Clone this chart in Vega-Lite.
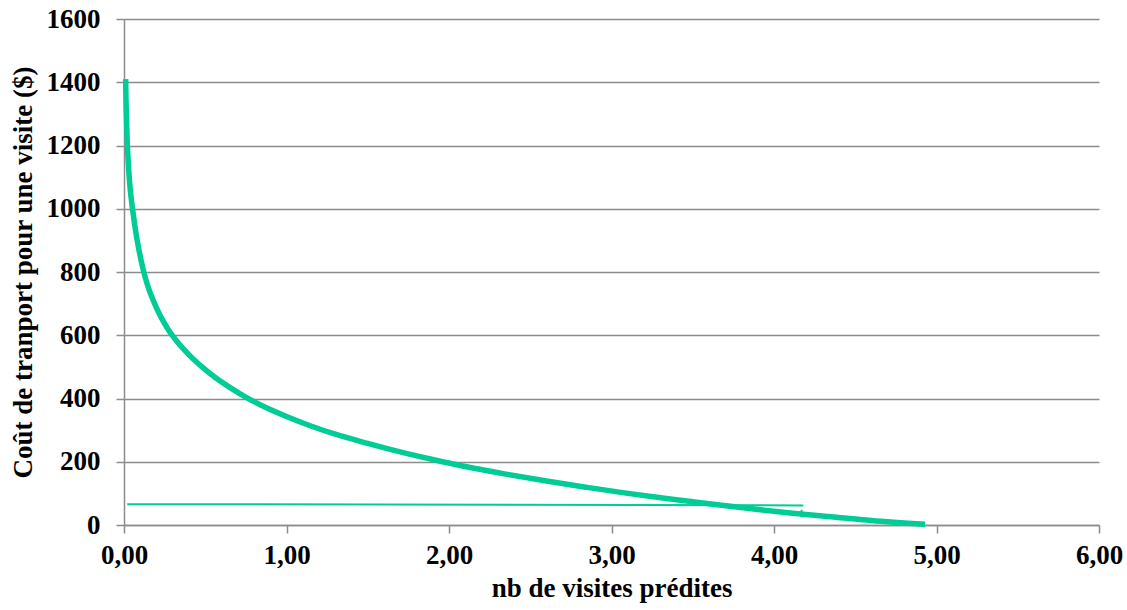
{
  "$schema": "https://vega.github.io/schema/vega-lite/v6.json",
  "autosize": {"type": "none"},
  "width": 975,
  "height": 506,
  "padding": {"left": 124, "top": 19, "right": 28, "bottom": 85},
  "background": "white",
  "config": {
    "view": {"stroke": null},
    "axis": {
      "labelFont": "Liberation Serif, Times New Roman, serif",
      "titleFont": "Liberation Serif, Times New Roman, serif",
      "labelFontWeight": "bold",
      "titleFontWeight": "bold",
      "labelFontSize": 27,
      "titleFontSize": 27,
      "labelColor": "black",
      "titleColor": "black",
      "labelFlush": false,
      "domainColor": "#8c8c8c",
      "domainWidth": 1.5,
      "tickColor": "#8c8c8c",
      "tickWidth": 1.5,
      "tickSize": 8,
      "gridColor": "#8c8c8c",
      "gridWidth": 1.5
    }
  },
  "datasets": {
    "curve": [
      {"x": 0.01, "y": 1410},
      {"x": 0.012, "y": 1350},
      {"x": 0.015, "y": 1290},
      {"x": 0.02, "y": 1210},
      {"x": 0.027, "y": 1140},
      {"x": 0.035, "y": 1080},
      {"x": 0.045, "y": 1030},
      {"x": 0.055, "y": 990},
      {"x": 0.07, "y": 935},
      {"x": 0.09, "y": 875},
      {"x": 0.117, "y": 810},
      {"x": 0.145, "y": 758},
      {"x": 0.18, "y": 710},
      {"x": 0.22, "y": 665},
      {"x": 0.27, "y": 620},
      {"x": 0.33, "y": 578},
      {"x": 0.4, "y": 538},
      {"x": 0.48, "y": 500},
      {"x": 0.57, "y": 463},
      {"x": 0.66, "y": 432},
      {"x": 0.757, "y": 402},
      {"x": 0.87, "y": 372},
      {"x": 1.0, "y": 343},
      {"x": 1.15, "y": 313},
      {"x": 1.3, "y": 287},
      {"x": 1.5, "y": 258},
      {"x": 1.7, "y": 231},
      {"x": 1.9, "y": 207},
      {"x": 2.1, "y": 185},
      {"x": 2.35, "y": 161},
      {"x": 2.6, "y": 139},
      {"x": 2.85, "y": 119},
      {"x": 3.1, "y": 100},
      {"x": 3.35, "y": 83},
      {"x": 3.6, "y": 67},
      {"x": 3.85, "y": 52},
      {"x": 4.1, "y": 38},
      {"x": 4.35, "y": 26},
      {"x": 4.6, "y": 14},
      {"x": 4.93, "y": 2}
    ],
    "flat": [
      {"x": 0.02, "y": 66},
      {"x": 4.18, "y": 62}
    ],
    "mark": [
      {"x": 4.17, "y": 24, "y2": 48}
    ]
  },
  "layer": [
    {
      "data": {"name": "curve"},
      "mark": {"type": "line", "color": "#00CC96", "strokeWidth": 5.5, "interpolate": "monotone"},
      "encoding": {
        "x": {
          "field": "x", "type": "quantitative",
          "scale": {"domain": [0, 6], "nice": false, "zero": false},
          "axis": {
            "title": "nb de visites prédites",
            "values": [0, 1, 2, 3, 4, 5, 6],
            "labelExpr": "replace(format(datum.value, '.2f'), '.', ',')",
            "grid": false,
            "labelPadding": 9,
            "titlePadding": 7
          }
        },
        "y": {
          "field": "y", "type": "quantitative",
          "scale": {"domain": [0, 1600], "nice": false},
          "axis": {
            "title": "Coût de tranport pour une visite ($)",
            "values": [0, 200, 400, 600, 800, 1000, 1200, 1400, 1600],
            "format": "d",
            "grid": true,
            "labelPadding": 16,
            "titlePadding": 9
          }
        }
      }
    },
    {
      "data": {"name": "flat"},
      "mark": {"type": "line", "color": "#00CC96", "strokeWidth": 2},
      "encoding": {
        "x": {"field": "x", "type": "quantitative"},
        "y": {"field": "y", "type": "quantitative"}
      }
    },
    {
      "data": {"name": "mark"},
      "mark": {"type": "rule", "color": "#00CC96", "strokeWidth": 2},
      "encoding": {
        "x": {"field": "x", "type": "quantitative"},
        "y": {"field": "y", "type": "quantitative"},
        "y2": {"field": "y2"}
      }
    }
  ]
}
